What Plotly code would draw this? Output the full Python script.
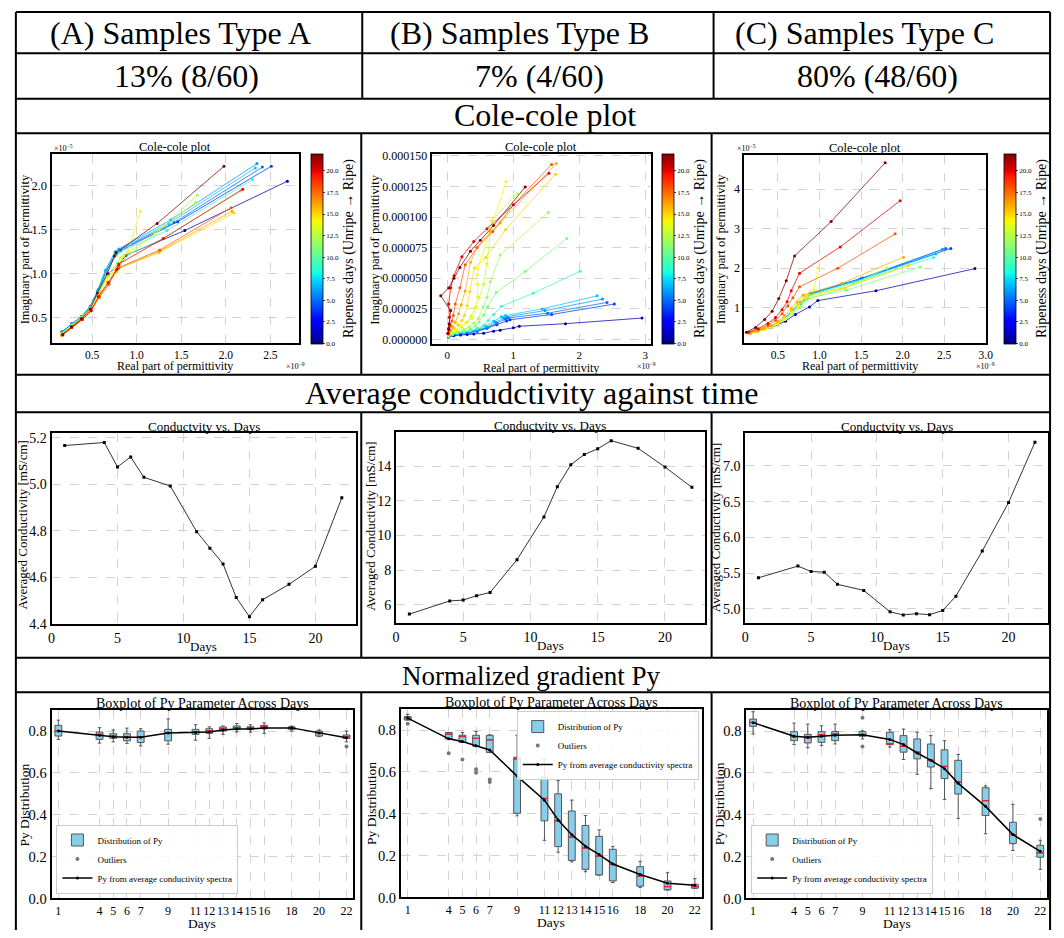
import plotly.graph_objects as go
import numpy as np

W, H = 1064, 938
FONT = "Liberation Serif"

# ---------------- DATA ----------------
DAYS = [1, 4, 5, 6, 7, 9, 11, 12, 13, 14, 15, 16, 18, 20, 22]
DAY_MAX = 22

# Cole-cole A  (Re in 1e-9, Im in 1e-5)
COLE_A_RE = [
    [0.16, 0.27, 0.39, 0.48, 0.58, 0.68, 0.80, 0.88, 1.54, 2.69],
    [0.16, 0.27, 0.38, 0.48, 0.57, 0.66, 0.77, 0.82, 1.46, 2.51],
    [0.16, 0.27, 0.38, 0.48, 0.57, 0.66, 0.77, 0.81, 1.42, 2.41],
    [0.16, 0.27, 0.38, 0.48, 0.56, 0.65, 0.76, 0.80, 1.38, 2.35],
    [0.16, 0.27, 0.38, 0.48, 0.56, 0.65, 0.76, 0.80, 1.36, 2.33],
    [0.16, 0.27, 0.38, 0.48, 0.57, 0.66, 0.76, 0.80, 1.34, 2.30],
    [0.16, 0.27, 0.38, 0.48, 0.57, 0.67, 0.78, 0.82, 1.30, 2.17],
    [0.16, 0.27, 0.38, 0.48, 0.57, 0.67, 0.78, 0.85, 1.25, 1.68],
    [0.16, 0.27, 0.38, 0.48, 0.57, 0.67, 0.78, 0.85, 1.20, 1.66],
    [0.16, 0.27, 0.38, 0.48, 0.57, 0.66, 0.75, 0.82, 0.90, 1.04],
    [0.16, 0.27, 0.39, 0.49, 0.58, 0.68, 0.77, 0.80, 1.25, 2.09],
    [0.16, 0.27, 0.39, 0.49, 0.58, 0.68, 0.77, 0.80, 1.25, 2.07],
    [0.17, 0.27, 0.39, 0.49, 0.58, 0.69, 0.77, 0.80, 1.26, 2.06],
    [0.17, 0.27, 0.39, 0.49, 0.57, 0.68, 0.78, 0.80, 1.30, 2.19],
    [0.17, 0.27, 0.38, 0.48, 0.56, 0.67, 0.75, 0.77, 1.23, 1.98],
]
COLE_A_IM = [
    [0.33, 0.42, 0.50, 0.61, 0.80, 1.00, 1.10, 1.21, 1.49, 2.05],
    [0.34, 0.43, 0.51, 0.63, 0.82, 1.03, 1.22, 1.26, 1.59, 2.22],
    [0.33, 0.43, 0.51, 0.62, 0.81, 1.03, 1.23, 1.27, 1.58, 2.21],
    [0.33, 0.42, 0.51, 0.62, 0.80, 1.04, 1.25, 1.28, 1.61, 2.25],
    [0.33, 0.42, 0.51, 0.62, 0.80, 1.03, 1.24, 1.27, 1.57, 2.20],
    [0.32, 0.42, 0.50, 0.61, 0.79, 1.00, 1.20, 1.24, 1.49, 2.07],
    [0.32, 0.41, 0.50, 0.61, 0.78, 0.98, 1.12, 1.18, 1.40, 1.94],
    [0.32, 0.41, 0.50, 0.61, 0.78, 0.97, 1.02, 1.15, 1.50, 1.89],
    [0.31, 0.41, 0.49, 0.60, 0.77, 0.96, 1.05, 1.20, 1.45, 1.81],
    [0.31, 0.40, 0.49, 0.60, 0.76, 0.92, 1.05, 1.18, 1.25, 1.71],
    [0.30, 0.39, 0.48, 0.59, 0.74, 0.88, 1.02, 1.06, 1.24, 1.69],
    [0.30, 0.39, 0.48, 0.59, 0.74, 0.88, 1.03, 1.06, 1.25, 1.71],
    [0.30, 0.39, 0.48, 0.58, 0.73, 0.88, 1.04, 1.07, 1.27, 1.75],
    [0.31, 0.39, 0.48, 0.58, 0.74, 0.90, 1.05, 1.11, 1.40, 1.96],
    [0.31, 0.40, 0.49, 0.60, 0.78, 1.00, 1.20, 1.24, 1.57, 2.22],
]

# Cole-cole B  (Re in 1e-9, Im in 1e-6)
COLE_B_RE = [
    [0.02, 0.10, 0.20, 0.30, 0.40, 0.55, 0.70, 0.80, 1.00, 1.09, 1.79, 2.95],
    [0.02, 0.08, 0.15, 0.25, 0.35, 0.45, 0.60, 0.75, 0.90, 0.95, 1.58, 2.53],
    [0.02, 0.08, 0.15, 0.25, 0.35, 0.45, 0.60, 0.75, 0.88, 0.92, 1.52, 2.42],
    [0.02, 0.08, 0.15, 0.25, 0.35, 0.45, 0.60, 0.73, 0.85, 0.90, 1.48, 2.35],
    [0.02, 0.08, 0.15, 0.25, 0.35, 0.45, 0.58, 0.70, 0.82, 0.88, 1.44, 2.27],
    [0.02, 0.08, 0.15, 0.25, 0.35, 0.45, 0.55, 0.62, 0.70, 0.82, 1.30, 2.01],
    [0.02, 0.08, 0.15, 0.25, 0.35, 0.42, 0.48, 0.55, 0.61, 0.74, 1.18, 1.81],
    [0.02, 0.08, 0.15, 0.25, 0.33, 0.40, 0.47, 0.54, 0.60, 0.65, 0.80, 1.53],
    [0.02, 0.07, 0.13, 0.22, 0.30, 0.36, 0.42, 0.48, 0.55, 0.60, 0.67, 1.06],
    [0.02, 0.06, 0.12, 0.20, 0.28, 0.37, 0.44, 0.46, 0.46, 0.45, 0.46, 0.89],
    [0.02, 0.05, 0.10, 0.16, 0.22, 0.26, 0.30, 0.34, 0.41, 0.58, 0.88, 1.64],
    [0.02, 0.05, 0.08, 0.12, 0.17, 0.21, 0.27, 0.35, 0.45, 0.65, 0.80, 1.65],
    [0.01, 0.03, 0.05, 0.07, 0.09, 0.12, 0.19, 0.27, 0.45, 0.69, 1.00, 1.58],
    [0.01, 0.02, 0.03, 0.03, 0.02, 0.05, 0.10, 0.22, 0.40, 0.60, 1.00, 1.54],
    [0.01, 0.02, 0.03, 0.05, -0.10, 0.02, 0.10, 0.19, 0.35, 0.50, 0.70, 1.18],
]
COLE_B_IM = [
    [2.0, 3.0, 3.5, 4.0, 4.3, 5.0, 6.7, 7.5, 9.4, 10.7, 12.8, 17.4],
    [2.5, 3.5, 4.5, 5.0, 5.5, 6.5, 9.0, 12.0, 15.0, 16.0, 20.3, 28.9],
    [2.5, 3.6, 4.6, 5.2, 5.8, 7.0, 9.5, 13.0, 16.5, 17.5, 21.4, 30.2],
    [2.6, 3.7, 4.7, 5.4, 6.0, 7.5, 10.0, 14.0, 17.5, 18.5, 23.5, 32.9],
    [2.7, 3.8, 4.9, 5.6, 6.5, 8.0, 11.0, 15.0, 18.5, 19.5, 24.9, 35.6],
    [2.8, 4.0, 5.2, 6.0, 7.0, 9.0, 11.5, 15.5, 20.3, 27.0, 37.7, 55.6],
    [3.0, 4.5, 6.0, 7.0, 8.5, 11.0, 14.2, 20.0, 26.7, 38.2, 55.6, 82.4],
    [3.2, 5.0, 6.5, 8.0, 10.0, 13.4, 17.0, 26.2, 34.2, 47.0, 69.0, 103.8],
    [3.5, 5.5, 7.5, 10.0, 14.0, 19.0, 26.0, 34.0, 45.0, 62.0, 97.0, 119.3],
    [3.5, 6.0, 8.5, 11.0, 13.5, 17.0, 26.0, 34.8, 45.0, 53.0, 58.0, 129.0],
    [4.0, 6.5, 9.0, 12.0, 15.5, 19.5, 27.5, 39.0, 58.3, 66.9, 89.6, 135.0],
    [4.0, 7.0, 10.0, 14.0, 20.9, 28.3, 39.6, 63.0, 75.0, 88.0, 95.2, 143.8],
    [4.5, 7.5, 11.0, 15.0, 19.5, 28.9, 42.2, 61.0, 75.0, 88.2, 110.0, 143.0],
    [5.0, 8.0, 12.0, 18.0, 28.9, 42.2, 52.0, 67.6, 80.0, 90.4, 110.0, 135.8],
    [5.0, 9.0, 12.8, 23.5, 35.6, 42.0, 50.0, 58.8, 72.0, 81.0, 93.0, 124.6],
]

# Cole-cole C  (Re in 1e-9, Im in 1e-5)
COLE_C_RE = [
    [0.17, 0.25, 0.33, 0.42, 0.50, 0.59, 0.71, 0.88, 0.98, 1.68, 2.87],
    [0.17, 0.25, 0.33, 0.42, 0.50, 0.58, 0.67, 0.77, 0.90, 1.52, 2.58],
    [0.17, 0.25, 0.33, 0.42, 0.50, 0.58, 0.67, 0.77, 0.90, 1.50, 2.52],
    [0.17, 0.25, 0.33, 0.42, 0.50, 0.58, 0.67, 0.77, 0.89, 1.48, 2.48],
    [0.17, 0.25, 0.33, 0.42, 0.50, 0.58, 0.67, 0.77, 0.88, 1.45, 2.40],
    [0.17, 0.25, 0.33, 0.42, 0.50, 0.58, 0.67, 0.76, 0.86, 1.40, 2.37],
    [0.17, 0.25, 0.33, 0.42, 0.50, 0.58, 0.67, 0.76, 0.86, 1.33, 2.21],
    [0.17, 0.25, 0.33, 0.42, 0.50, 0.58, 0.67, 0.76, 0.85, 1.30, 1.81],
    [0.17, 0.25, 0.33, 0.42, 0.50, 0.58, 0.67, 0.75, 0.84, 1.25, 2.07],
    [0.17, 0.25, 0.33, 0.42, 0.50, 0.58, 0.66, 0.74, 0.82, 0.93, 0.99],
    [0.17, 0.25, 0.33, 0.42, 0.50, 0.58, 0.66, 0.74, 0.82, 1.30, 2.07],
    [0.17, 0.25, 0.33, 0.42, 0.50, 0.58, 0.66, 0.73, 0.80, 1.27, 2.01],
    [0.15, 0.27, 0.38, 0.47, 0.55, 0.62, 0.68, 0.76, 1.22, 1.91],
    [0.14, 0.26, 0.38, 0.47, 0.55, 0.61, 0.66, 0.76, 1.25, 1.97],
    [0.12, 0.23, 0.34, 0.43, 0.51, 0.60, 0.70, 1.14, 1.79],
]
COLE_C_IM = [
    [0.36, 0.40, 0.45, 0.50, 0.57, 0.66, 0.83, 1.02, 1.18, 1.43, 1.99],
    [0.36, 0.40, 0.45, 0.52, 0.60, 0.72, 0.90, 1.10, 1.35, 1.75, 2.50],
    [0.36, 0.40, 0.45, 0.52, 0.60, 0.72, 0.90, 1.12, 1.36, 1.74, 2.50],
    [0.36, 0.40, 0.45, 0.52, 0.61, 0.73, 0.92, 1.13, 1.37, 1.72, 2.48],
    [0.36, 0.40, 0.45, 0.52, 0.61, 0.73, 0.91, 1.12, 1.35, 1.68, 2.36],
    [0.35, 0.40, 0.45, 0.51, 0.60, 0.72, 0.88, 1.08, 1.30, 1.63, 2.27],
    [0.35, 0.40, 0.45, 0.51, 0.59, 0.70, 0.86, 1.04, 1.25, 1.45, 2.03],
    [0.35, 0.40, 0.45, 0.51, 0.59, 0.70, 0.86, 1.00, 1.20, 1.50, 2.00],
    [0.35, 0.40, 0.45, 0.51, 0.59, 0.70, 0.87, 1.05, 1.28, 1.48, 2.07],
    [0.35, 0.40, 0.45, 0.51, 0.59, 0.70, 0.86, 1.05, 1.25, 1.45, 2.02],
    [0.35, 0.40, 0.46, 0.53, 0.62, 0.75, 0.92, 1.10, 1.30, 1.50, 2.07],
    [0.35, 0.41, 0.47, 0.55, 0.65, 0.80, 0.98, 1.15, 1.32, 1.62, 2.28],
    [0.37, 0.45, 0.55, 0.68, 0.85, 1.05, 1.25, 1.53, 2.00, 2.87],
    [0.38, 0.47, 0.60, 0.75, 0.95, 1.15, 1.43, 1.875, 2.54, 3.71],
    [0.38, 0.50, 0.70, 0.91, 1.23, 1.68, 2.31, 3.18, 4.67],
]

# Averaged conductivity [mS/cm]
COND_A = [5.167, 5.180, 5.075, 5.118, 5.030, 4.993, 4.796, 4.725, 4.657, 4.512, 4.430, 4.503, 4.569, 4.647, 4.942]
COND_B = [5.47, 6.23, 6.28, 6.53, 6.72, 8.61, 11.07, 12.82, 14.08, 14.67, 15.00, 15.47, 15.03, 13.95, 12.78]
COND_C = [5.436, 5.600, 5.524, 5.515, 5.345, 5.260, 4.960, 4.917, 4.935, 4.920, 4.980, 5.180, 5.810, 6.490, 7.330]

# Py boxplot statistics
PY_A_LO = [0.760, 0.742, 0.748, 0.740, 0.729, 0.737, 0.756, 0.765, 0.784, 0.795, 0.795, 0.789, 0.800, 0.773, 0.748]
PY_A_Q1 = [0.776, 0.760, 0.765, 0.753, 0.745, 0.753, 0.784, 0.789, 0.800, 0.808, 0.808, 0.811, 0.808, 0.776, 0.764]
PY_A_MED = [0.800, 0.784, 0.776, 0.772, 0.772, 0.792, 0.797, 0.800, 0.811, 0.816, 0.816, 0.820, 0.816, 0.792, 0.772]
PY_A_Q3 = [0.827, 0.795, 0.787, 0.787, 0.800, 0.808, 0.808, 0.811, 0.819, 0.824, 0.820, 0.827, 0.820, 0.800, 0.781]
PY_A_HI = [0.852, 0.816, 0.805, 0.814, 0.811, 0.858, 0.830, 0.820, 0.824, 0.836, 0.830, 0.839, 0.824, 0.805, 0.800]
PY_A_AVG = [0.800, 0.780, 0.773, 0.770, 0.770, 0.790, 0.793, 0.795, 0.805, 0.810, 0.810, 0.815, 0.815, 0.790, 0.768]
PY_A_OUT_X = [22]
PY_A_OUT_Y = [0.726]

PY_B_LO = [0.848, 0.757, 0.741, 0.722, 0.693, 0.390, 0.273, 0.216, 0.170, 0.123, 0.107, 0.071, 0.047, 0.036, 0.044]
PY_B_Q1 = [0.848, 0.757, 0.741, 0.722, 0.693, 0.402, 0.366, 0.243, 0.177, 0.134, 0.107, 0.079, 0.054, 0.036, 0.044]
PY_B_MED = [0.859, 0.780, 0.769, 0.760, 0.753, 0.662, 0.473, 0.366, 0.288, 0.236, 0.197, 0.158, 0.102, 0.052, 0.052]
PY_B_Q3 = [0.864, 0.788, 0.775, 0.775, 0.775, 0.670, 0.575, 0.495, 0.413, 0.344, 0.292, 0.230, 0.147, 0.079, 0.063]
PY_B_HI = [0.875, 0.788, 0.788, 0.793, 0.777, 0.775, 0.659, 0.558, 0.465, 0.391, 0.323, 0.244, 0.173, 0.118, 0.090]
PY_B_AVG = [0.857, 0.758, 0.745, 0.725, 0.705, 0.580, 0.465, 0.370, 0.300, 0.245, 0.205, 0.160, 0.110, 0.068, 0.058]
PY_B_OUT_X = [1, 4, 5, 6, 6, 7, 7]
PY_B_OUT_Y = [0.830, 0.689, 0.659, 0.612, 0.596, 0.564, 0.552]

PY_C_LO = [0.786, 0.735, 0.720, 0.730, 0.738, 0.762, 0.723, 0.664, 0.593, 0.525, 0.473, 0.383, 0.309, 0.229, 0.139]
PY_C_Q1 = [0.822, 0.754, 0.743, 0.746, 0.754, 0.775, 0.735, 0.699, 0.667, 0.628, 0.573, 0.499, 0.396, 0.262, 0.197]
PY_C_MED = [0.841, 0.773, 0.767, 0.783, 0.786, 0.781, 0.738, 0.727, 0.699, 0.660, 0.631, 0.557, 0.467, 0.305, 0.218]
PY_C_Q3 = [0.857, 0.797, 0.784, 0.797, 0.798, 0.797, 0.794, 0.778, 0.762, 0.738, 0.710, 0.660, 0.529, 0.364, 0.254]
PY_C_HI = [0.892, 0.838, 0.833, 0.825, 0.833, 0.801, 0.806, 0.809, 0.794, 0.778, 0.754, 0.688, 0.538, 0.450, 0.278]
PY_C_AVG = [0.840, 0.775, 0.770, 0.775, 0.780, 0.782, 0.760, 0.735, 0.695, 0.660, 0.620, 0.550, 0.440, 0.305, 0.225]
PY_C_OUT_X = [9, 9, 22]
PY_C_OUT_Y = [0.863, 0.726, 0.380]

HEADERS = ["(A) Samples Type A", "(B) Samples Type B", "(C) Samples Type C"]
SHARES = ["13% (8/60)", "7% (4/60)", "80% (48/60)"]
SECTION_TITLES = ["Cole-cole plot", "Average condudctivity against time", "Normalized gradient Py"]


# ---------------- HELPERS ----------------
def fx(p):
    return p / W


def fy(p):
    return 1 - p / H


_JR = ([0, 0.35, 0.66, 0.89, 1.0], [0, 0, 1, 1, 0.5])
_JG = ([0, 0.125, 0.375, 0.64, 0.91, 1.0], [0, 0, 1, 1, 0, 0])
_JB = ([0, 0.11, 0.34, 0.65, 1.0], [0.5, 1, 1, 0, 0])


def jet(t, a=None):
    r = np.interp(t, *_JR) * 255
    g = np.interp(t, *_JG) * 255
    b = np.interp(t, *_JB) * 255
    if a is None:
        return f"rgb({r:.0f},{g:.0f},{b:.0f})"
    return f"rgba({r:.0f},{g:.0f},{b:.0f},{a})"


JET_STOPS = [0, 0.11, 0.125, 0.34, 0.35, 0.375, 0.64, 0.65, 0.66, 0.89, 0.91, 1.0]
JET_SCALE = [[s, jet(s)] for s in JET_STOPS]

fig = go.Figure()
layout = dict()
annotations = []
shapes = []


def txt(x, y, text, size, angle=0, xanchor="center", yanchor="middle", color="black"):
    annotations.append(dict(x=fx(x), y=fy(y), xref="paper", yref="paper", text=text,
                            showarrow=False, textangle=angle, xanchor=xanchor, yanchor=yanchor,
                            font=dict(family=FONT, size=size, color=color)))


def axis_common(tsize):
    return dict(showline=True, linecolor="black", linewidth=1.8, mirror=True,
                showgrid=True, gridcolor="#d3d3d3", griddash="dash", gridwidth=0.8,
                zeroline=False, ticks="", tickangle=0,
                tickfont=dict(family=FONT, size=tsize, color="black"))


def add_axes(i, box, xcfg, ycfg, tsize):
    x0, x1, y0, y1 = box
    xa = dict(axis_common(tsize), domain=[fx(x0), fx(x1)], anchor=f"y{i}")
    xa.update(xcfg)
    ya = dict(axis_common(tsize), domain=[fy(y1), fy(y0)], anchor=f"x{i}")
    ya.update(ycfg)
    layout[f"xaxis{i}"] = xa
    layout[f"yaxis{i}"] = ya


# ---------------- COLE-COLE ----------------
cole_sets = [
    (COLE_A_RE, COLE_A_IM, 1.0),
    (COLE_B_RE, COLE_B_IM, 1e-6),
    (COLE_C_RE, COLE_C_IM, 1.0),
]
cole_boxes = [(48, 298, 151, 343), (432, 654, 151, 344), (748, 992, 152, 343)]
cole_x = [
    dict(range=[0.045, 2.82], dtick=0.5, tick0=0, tickformat=".1f"),
    dict(range=[-0.24, 3.09], dtick=1, tick0=0, tickformat="d"),
    dict(range=[0.095, 3.0], dtick=0.5, tick0=0, tickformat=".1f"),
]
cole_y = [
    dict(range=[0.21, 2.36], dtick=0.5, tick0=0, tickformat=".1f"),
    dict(range=[-4e-6, 151.6e-6], dtick=25e-6, tick0=0, tickformat=".6f"),
    dict(range=[0.1, 4.87], dtick=1, tick0=0, tickformat="d"),
]
cole_tsize = [12.5, 12, 12]
cole_xtick = [11.5, 11, 11.5]
cbar_x = [310, 665, 1010]

for k in range(3):
    i = k + 1
    res, ims, sc = cole_sets[k]
    add_axes(i, cole_boxes[k], cole_x[k], cole_y[k], cole_tsize[k])
    layout[f"xaxis{i}"]["tickfont"] = dict(family=FONT, size=cole_xtick[k], color="black")
    for d, re, im in zip(DAYS, res, ims):
        fig.add_trace(go.Scatter(
            x=re, y=[v * sc for v in im], mode="lines+markers",
            line=dict(color=jet(d / DAY_MAX, 0.75), width=1),
            marker=dict(size=3, color=[d] * len(re), coloraxis=f"coloraxis{'' if i == 1 else i}"),
            xaxis=f"x{i}", yaxis=f"y{i}", showlegend=False, hoverinfo="skip"))
    layout[f"coloraxis{'' if i == 1 else i}"] = dict(
        colorscale=JET_SCALE, cmin=0, cmax=DAY_MAX,
        colorbar=dict(x=fx(cbar_x[k]), xanchor="left", xpad=0, ypad=0,
                      y=fy(247), yanchor="middle", len=190, lenmode="pixels",
                      thickness=12, thicknessmode="pixels",
                      outlinewidth=0.8, outlinecolor="black",
                      tick0=0, dtick=2.5, tickformat=".1f", ticks="outside", ticklen=2,
                      tickfont=dict(family=FONT, size=7, color="black"),
                      title=dict(text="Ripeness days (Unripe \u2192 Ripe)", side="right",
                                 font=dict(family=FONT, size=14, color="black"))))
    x0, x1, y0, y1 = cole_boxes[k]
    txt((x0 + x1) / 2, y0 - 7, "Cole-cole plot", 12.5)

txt(173, 366, "Real part of permittivity", 12)
txt(543, 368, "Real part of permittivity", 12)
txt(865, 366, "Real part of permittivity", 12)
txt(21, 248, "Imaginary part of permittivity", 12.5, angle=-90)
txt(374, 248, "Imaginary part of permittivity", 12.5, angle=-90)
txt(724, 248, "Imaginary part of permittivity", 12.5, angle=-90)
txt(48, 145, "\u00d710<sup>\u22125</sup>", 8, xanchor="left")
txt(283, 366, "\u00d710<sup>\u22129</sup>", 8, xanchor="left")
txt(638, 366, "\u00d710<sup>\u22129</sup>", 8, xanchor="left")
txt(739, 145, "\u00d710<sup>\u22125</sup>", 8, xanchor="left")
txt(980, 366, "\u00d710<sup>\u22129</sup>", 8, xanchor="left")

# ---------------- CONDUCTIVITY ----------------
cond_sets = [COND_A, COND_B, COND_C]
cond_boxes = [(48, 356, 434, 628), (396, 708, 433, 627), (749, 1055, 434, 627)]
cond_x = [
    dict(range=[0, 23.1], dtick=5, tick0=0),
    dict(range=[0, 22.95], dtick=5, tick0=0),
    dict(range=[0, 23.0], dtick=5, tick0=0),
]
cond_y = [
    dict(range=[4.397, 5.221], dtick=0.2, tick0=0, tickformat=".1f"),
    dict(range=[4.94, 15.97], dtick=2, tick0=0),
    dict(range=[4.80, 7.46], dtick=0.5, tick0=0, tickformat=".1f"),
]
for k in range(3):
    i = k + 4
    add_axes(i, cond_boxes[k], cond_x[k], cond_y[k], 14)
    fig.add_trace(go.Scatter(
        x=DAYS, y=cond_sets[k], mode="lines+markers",
        line=dict(color="#333333", width=1), marker=dict(size=3, color="black", symbol="square"),
        xaxis=f"x{i}", yaxis=f"y{i}", showlegend=False, hoverinfo="skip"))
    x0, x1, y0, y1 = cond_boxes[k]
    txt((x0 + x1) / 2, y0 - 7, "Conductvity vs. Days", 13)
    txt((x0 + x1) / 2, y1 + 23, "Days", 13)

txt(19, 527, "Averaged Conductivity [mS/cm]", 13, angle=-90)
txt(371, 529, "Averaged Conductivity [mS/cm]", 13, angle=-90)
txt(719, 530, "Averaged Conductivity [mS/cm]", 13, angle=-90)

# ---------------- BOXPLOTS ----------------
py_sets = [
    (PY_A_LO, PY_A_Q1, PY_A_MED, PY_A_Q3, PY_A_HI, PY_A_AVG, PY_A_OUT_X, PY_A_OUT_Y),
    (PY_B_LO, PY_B_Q1, PY_B_MED, PY_B_Q3, PY_B_HI, PY_B_AVG, PY_B_OUT_X, PY_B_OUT_Y),
    (PY_C_LO, PY_C_Q1, PY_C_MED, PY_C_Q3, PY_C_HI, PY_C_AVG, PY_C_OUT_X, PY_C_OUT_Y),
]
py_boxes = [(48, 353, 715, 906), (401, 705, 714, 905), (750, 1054, 715, 906)]
legend_pos = [
    dict(x=fx(53), y=fy(901), xanchor="left", yanchor="bottom"),
    dict(x=fx(702), y=fy(716), xanchor="right", yanchor="top"),
    dict(x=fx(755), y=fy(901), xanchor="left", yanchor="bottom"),
]
BOX_W = 0.5
for k in range(3):
    i = k + 7
    lo, q1, med, q3, hi, avg, ox, oy = py_sets[k]
    lname = "legend" if k == 0 else f"legend{k + 1}"
    add_axes(i, py_boxes[k],
             dict(range=[0.5, 22.5], tickmode="array", tickvals=DAYS, ticktext=[str(d) for d in DAYS],
                  tickfont=dict(family=FONT, size=12, color="black")),
             dict(range=[0, 0.9], dtick=0.2, tick0=0, tickformat=".1f"), 14.5)
    fig.add_trace(go.Box(
        x=DAYS, q1=q1, median=med, q3=q3, lowerfence=lo, upperfence=hi,
        width=BOX_W, whiskerwidth=0.5, fillcolor="#87CEEB",
        line=dict(color="#555555", width=1), boxpoints=False,
        name="Distribution of Py", legend=lname, xaxis=f"x{i}", yaxis=f"y{i}", hoverinfo="skip"))
    mx, my = [], []
    for d, m in zip(DAYS, med):
        mx += [d - BOX_W / 2, d + BOX_W / 2, None]
        my += [m, m, None]
    fig.add_trace(go.Scatter(x=mx, y=my, mode="lines", line=dict(color="#e8202a", width=1.3),
                             showlegend=False, xaxis=f"x{i}", yaxis=f"y{i}", hoverinfo="skip"))
    fig.add_trace(go.Scatter(x=ox, y=oy, mode="markers", marker=dict(size=4, color="#777777"),
                             name="Outliers", legend=lname, xaxis=f"x{i}", yaxis=f"y{i}", hoverinfo="skip"))
    fig.add_trace(go.Scatter(x=DAYS, y=avg, mode="lines+markers",
                             line=dict(color="black", width=1.5), marker=dict(size=3, color="black"),
                             name="Py from average conductivity spectra", legend=lname,
                             xaxis=f"x{i}", yaxis=f"y{i}", hoverinfo="skip"))
    layout[lname] = dict(legend_pos[k], bgcolor="rgba(255,255,255,0.85)", bordercolor="#cccccc",
                         borderwidth=1, font=dict(family=FONT, size=9, color="black"),
                         tracegroupgap=0, itemwidth=30)
    x0, x1, y0, y1 = py_boxes[k]
    txt((x0 + x1) / 2, y0 - 7, "Boxplot of Py Parameter Across Days", 14)
    txt((x0 + x1) / 2, y1 + 25, "Days", 13.5)

txt(21, 811, "Py Distribution", 13.5, angle=-90)
txt(372, 810, "Py Distribution", 13.5, angle=-90)
txt(723, 810, "Py Distribution", 13.5, angle=-90)

# ---------------- TABLE FRAME & HEADERS ----------------
def hline(y, x0=12, x1=1057):
    shapes.append(dict(type="line", xref="paper", yref="paper", x0=fx(x0), x1=fx(x1),
                       y0=fy(y), y1=fy(y), line=dict(color="black", width=2)))


def vline(x, y0, y1):
    shapes.append(dict(type="line", xref="paper", yref="paper", x0=fx(x), x1=fx(x),
                       y0=fy(y0), y1=fy(y1), line=dict(color="black", width=2)))


for yy in [7, 49, 95, 130, 375, 413, 662, 697]:
    hline(yy)
vline(12, 7, 938)
vline(1057, 7, 938)
vline(362, 7, 95)
vline(717, 7, 95)
for (a, b) in [(130, 375), (413, 662), (697, 938)]:
    vline(361, a, b)
    vline(715, a, b)

for x, t in zip([178, 521, 869], HEADERS):
    txt(x, 28, t, 32)
for x, t in zip([184, 541, 883], SHARES):
    txt(x, 72, t, 32)
txt(547, 112, SECTION_TITLES[0], 32)
txt(533, 393, SECTION_TITLES[1], 32)
txt(533, 680, SECTION_TITLES[2], 27)

fig.update_layout(
    width=W, height=H, autosize=False,
    margin=dict(l=0, r=0, t=0, b=0, pad=0),
    paper_bgcolor="white", plot_bgcolor="white",
    annotations=annotations, shapes=shapes,
    **layout,
)

fig.write_html("out.html", config={"displayModeBar": False},
               post_script="document.body.style.margin='0';document.body.style.overflow='hidden';")
